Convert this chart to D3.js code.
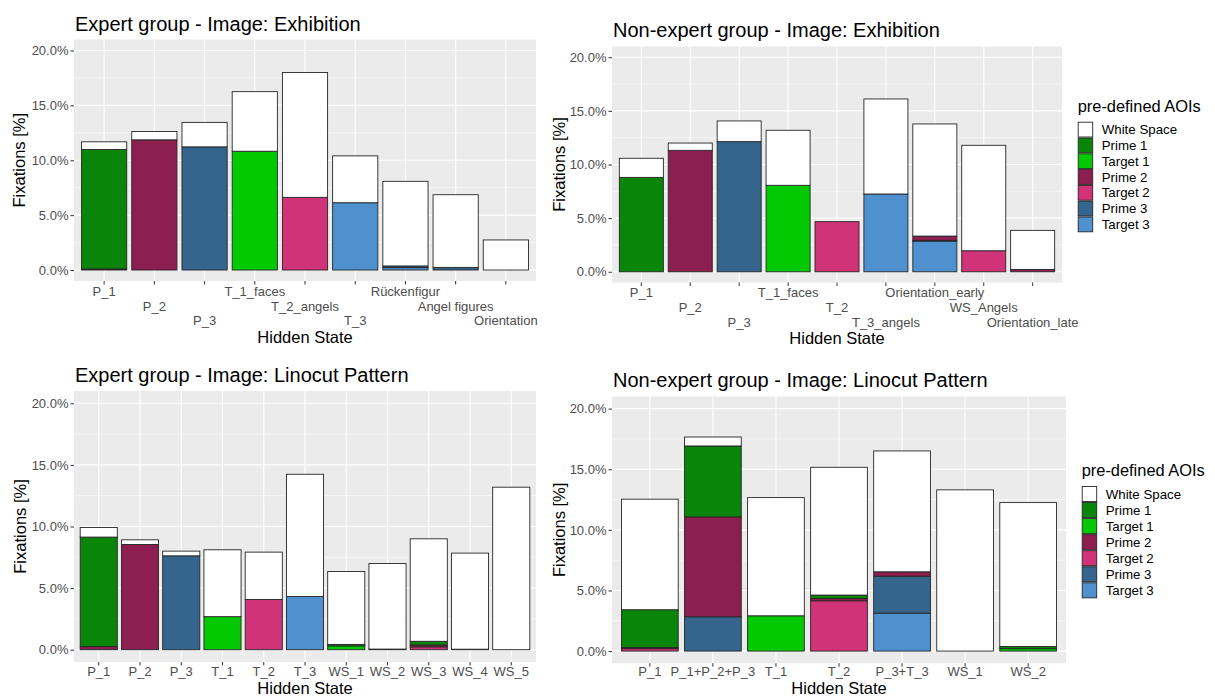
<!DOCTYPE html>
<html>
<head>
<meta charset="utf-8">
<script src="https://cdn.jsdelivr.net/npm/d3@7"></script>
<style>
  html, body { margin: 0; padding: 0; background: #ffffff; }
  svg { display: block; font-family: "Liberation Sans", Arial, Helvetica, sans-serif; }
</style>
</head>
<body>
<script>
// ---- AOI categories (legend order; first one is stacked on top) ----
const aoiNames = ["White Space", "Prime 1", "Target 1", "Prime 2", "Target 2", "Prime 3", "Target 3"];
const aoiPalette = ["#ffffff", "#098509", "#03c903", "#8c1f4f", "#d03377", "#35648c", "#4f91cf"];

// ---- y axis ticks (percent of fixations) ----
const yTickValues = [0, 5, 10, 15, 20];
const yMinorValues = [2.5, 7.5, 12.5, 17.5];

// ---- Expert group, image "Exhibition" ----
const expExhStates   = ["P_1", "P_2", "P_3", "T_1_faces", "T_2_angels", "T_3", "Rückenfigur", "Angel figures", "Orientation"];
const expExhWhite    = [0.70, 0.76, 2.23, 5.43, 11.37, 4.27, 7.71, 6.62, 2.74];
const expExhPrime1   = [10.88, 0, 0, 0, 0, 0, 0, 0, 0];
const expExhTarget1  = [0, 0, 0, 10.82, 0, 0, 0, 0, 0];
const expExhPrime2   = [0.10, 11.86, 0, 0, 0, 0, 0, 0, 0];
const expExhTarget2  = [0, 0, 0, 0, 6.62, 0, 0, 0, 0];
const expExhPrime3   = [0, 0, 11.22, 0, 0, 0, 0.15, 0.24, 0];
const expExhTarget3  = [0, 0, 0, 0, 0, 6.13, 0.22, 0, 0];

// ---- Non-expert group, image "Exhibition" ----
const novExhStates   = ["P_1", "P_2", "P_3", "T_1_faces", "T_2", "T_3_angels", "Orientation_early", "WS_Angels", "Orientation_late"];
const novExhWhite    = [1.78, 0.68, 1.93, 5.13, 0, 8.86, 10.45, 9.83, 3.64];
const novExhPrime1   = [8.80, 0, 0, 0, 0, 0, 0, 0, 0];
const novExhTarget1  = [0, 0, 0, 8.06, 0, 0, 0, 0, 0];
const novExhPrime2   = [0, 11.32, 0, 0, 0, 0, 0.40, 0, 0.22];
const novExhTarget2  = [0, 0, 0, 0, 4.67, 0, 0, 1.96, 0];
const novExhPrime3   = [0, 0, 12.13, 0, 0, 0, 0.07, 0, 0];
const novExhTarget3  = [0, 0, 0, 0, 0, 7.25, 2.86, 0, 0];

// ---- Expert group, image "Linocut Pattern" ----
const expLinStates   = ["P_1", "P_2", "P_3", "T_1", "T_2", "T_3", "WS_1", "WS_2", "WS_3", "WS_4", "WS_5"];
const expLinWhite    = [0.78, 0.38, 0.38, 5.43, 3.84, 9.92, 5.92, 6.95, 8.32, 7.80, 13.19];
const expLinPrime1   = [8.89, 0, 0, 0, 0, 0, 0.12, 0, 0.30, 0, 0];
const expLinTarget1  = [0, 0, 0, 2.68, 0, 0, 0.31, 0, 0, 0, 0];
const expLinPrime2   = [0.25, 8.54, 0, 0, 0, 0, 0, 0.05, 0.15, 0, 0];
const expLinTarget2  = [0, 0, 0, 0, 4.08, 0, 0, 0, 0.23, 0, 0];
const expLinPrime3   = [0, 0, 7.62, 0, 0, 0, 0, 0, 0, 0.04, 0];
const expLinTarget3  = [0, 0, 0, 0, 0, 4.32, 0, 0, 0, 0, 0];

// ---- Non-expert group, image "Linocut Pattern" ----
const novLinStates   = ["P_1", "P_1+P_2+P_3", "T_1", "T_2", "P_3+T_3", "WS_1", "WS_2"];
const novLinWhite    = [9.12, 0.74, 9.75, 10.54, 9.97, 13.30, 11.87];
const novLinPrime1   = [3.11, 5.85, 0, 0.28, 0, 0, 0.18];
const novLinTarget1  = [0, 0, 2.91, 0, 0, 0, 0.20];
const novLinPrime2   = [0.10, 8.24, 0, 0.19, 0.36, 0, 0];
const novLinTarget2  = [0.20, 0, 0, 4.15, 0, 0, 0];
const novLinPrime3   = [0, 2.83, 0, 0, 3.05, 0, 0];
const novLinTarget3  = [0, 0, 0, 0, 3.13, 0, 0];

// ---- assemble each panel's table from the arrays above ----
function buildRows(states, seriesArrays) {
  return states.map((s, i) => {
    const row = { state: s };
    aoiNames.forEach((a, k) => { row[a] = seriesArrays[k][i]; });
    return row;
  });
}

const panels = [
  {
    title: "Expert group - Image: Exhibition",
    rows: buildRows(expExhStates, [expExhWhite, expExhPrime1, expExhTarget1, expExhPrime2, expExhTarget2, expExhPrime3, expExhTarget3]),
    states: expExhStates,
    box: { x0: 74, x1: 536, y0: 39.5, y1: 281 },
    titleBase: 30.5, yTitleX: 19, xTitleY: 337.5, tickOffset: 10.3, dodge: 3, legend: null
  },
  {
    title: "Non-expert group - Image: Exhibition",
    rows: buildRows(novExhStates, [novExhWhite, novExhPrime1, novExhTarget1, novExhPrime2, novExhTarget2, novExhPrime3, novExhTarget3]),
    states: novExhStates,
    box: { x0: 612, x1: 1062, y0: 46.5, y1: 282.5 },
    titleBase: 37.3, yTitleX: 559, xTitleY: 338, tickOffset: 10.3, dodge: 3,
    legend: { x: 1077.7, titleY: 106, keyY: 121.7, keyH: 15.8 }
  },
  {
    title: "Expert group - Image: Linocut Pattern",
    rows: buildRows(expLinStates, [expLinWhite, expLinPrime1, expLinTarget1, expLinPrime2, expLinTarget2, expLinPrime3, expLinTarget3]),
    states: expLinStates,
    box: { x0: 74, x1: 536, y0: 391, y1: 662 },
    titleBase: 381.7, yTitleX: 20, xTitleY: 688.5, tickOffset: 9.6, dodge: 1, legend: null
  },
  {
    title: "Non-expert group - Image: Linocut Pattern",
    rows: buildRows(novLinStates, [novLinWhite, novLinPrime1, novLinTarget1, novLinPrime2, novLinTarget2, novLinPrime3, novLinTarget3]),
    states: novLinStates,
    box: { x0: 612, x1: 1066, y0: 396.5, y1: 663.2 },
    titleBase: 386.7, yTitleX: 559, xTitleY: 688.5, tickOffset: 8.6, dodge: 1,
    legend: { x: 1081.7, titleY: 470, keyY: 486, keyH: 16.05 }
  }
];

const svg = d3.select("body").append("svg")
  .attr("width", 1215).attr("height", 697);
svg.append("rect").attr("width", 1215).attr("height", 697).attr("fill", "#ffffff");

const color = d3.scaleOrdinal().domain(aoiNames).range(aoiPalette);
// bottom-to-top stacking order: last legend entry sits on the baseline
const stackKeys = aoiNames.slice().reverse();

function drawPanel(p) {
  const b = p.box;
  const g = svg.append("g");

  const x = d3.scaleBand().domain(p.states).range([b.x0, b.x1])
    .paddingInner(0.1).paddingOuter(0.15);
  const y = d3.scaleLinear().domain([-1, 21]).range([b.y1, b.y0]);

  // panel background and grid
  g.append("rect").attr("x", b.x0).attr("y", b.y0)
    .attr("width", b.x1 - b.x0).attr("height", b.y1 - b.y0).attr("fill", "#ebebeb");
  g.selectAll("line.minor").data(yMinorValues).join("line")
    .attr("x1", b.x0).attr("x2", b.x1).attr("y1", d => y(d)).attr("y2", d => y(d))
    .attr("stroke", "#ffffff").attr("stroke-width", 0.55);
  g.selectAll("line.majorY").data(yTickValues).join("line")
    .attr("x1", b.x0).attr("x2", b.x1).attr("y1", d => y(d)).attr("y2", d => y(d))
    .attr("stroke", "#ffffff").attr("stroke-width", 1.1);
  g.selectAll("line.majorX").data(p.states).join("line")
    .attr("x1", d => x(d) + x.bandwidth() / 2).attr("x2", d => x(d) + x.bandwidth() / 2)
    .attr("y1", b.y0).attr("y2", b.y1)
    .attr("stroke", "#ffffff").attr("stroke-width", 1.1);

  // stacked bars
  const series = d3.stack().keys(stackKeys)(p.rows);
  series.forEach(s => {
    g.append("g").selectAll("rect")
      .data(s.filter(d => d[1] - d[0] > 0))
      .join("rect")
      .attr("x", d => x(d.data.state))
      .attr("width", x.bandwidth())
      .attr("y", d => y(d[1]))
      .attr("height", d => y(d[0]) - y(d[1]))
      .attr("fill", color(s.key))
      .attr("stroke", "#262626")
      .attr("stroke-width", 0.9);
  });

  // y axis
  const ya = g.append("g").attr("transform", `translate(${b.x0},0)`)
    .call(d3.axisLeft(y).tickValues(yTickValues).tickSize(3.5).tickPadding(2)
      .tickFormat(d => d.toFixed(1) + "%"));
  ya.select(".domain").remove();
  ya.selectAll(".tick line").attr("stroke", "#333333").attr("stroke-width", 1);
  ya.selectAll(".tick text").attr("fill", "#4d4d4d")
    .style("font-size", "13px").style("font-family", "Liberation Sans, Arial, sans-serif");

  // x axis (labels dodged over several rows when there are long names)
  const xa = g.append("g").attr("transform", `translate(0,${b.y1})`)
    .call(d3.axisBottom(x).tickSize(3.5));
  xa.select(".domain").remove();
  xa.selectAll(".tick line").attr("stroke", "#333333").attr("stroke-width", 1);
  xa.selectAll(".tick text")
    .attr("fill", "#4d4d4d")
    .attr("y", (d, i) => p.tickOffset + (i % p.dodge) * 14.8)
    .attr("dy", "0.35em")
    .style("font-size", "13px").style("font-family", "Liberation Sans, Arial, sans-serif");

  // titles
  g.append("text").attr("x", b.x0 + 1).attr("y", p.titleBase)
    .attr("fill", "#000000").style("font-size", "20px").text(p.title);
  g.append("text")
    .attr("transform", `translate(${p.yTitleX},${(b.y0 + b.y1) / 2}) rotate(-90)`)
    .attr("text-anchor", "middle").attr("dy", "0.35em")
    .attr("fill", "#000000").style("font-size", "16.5px").text("Fixations [%]");
  g.append("text").attr("x", (b.x0 + b.x1) / 2).attr("y", p.xTitleY)
    .attr("text-anchor", "middle").attr("dy", "0.35em")
    .attr("fill", "#000000").style("font-size", "16.5px").text("Hidden State");

  // legend
  if (p.legend) {
    const L = p.legend;
    const lg = g.append("g");
    lg.append("text").attr("x", L.x).attr("y", L.titleY).attr("dy", "0.35em")
      .attr("fill", "#000000").style("font-size", "16.4px").text("pre-defined AOIs");
    const items = lg.selectAll("g.item").data(aoiNames).join("g")
      .attr("transform", (d, i) => `translate(${L.x},${L.keyY + i * L.keyH})`);
    items.append("rect").attr("x", 0.5).attr("y", 0.5)
      .attr("width", 14.5).attr("height", L.keyH - 1)
      .attr("fill", d => color(d)).attr("stroke", "#262626").attr("stroke-width", 0.9);
    items.append("text").attr("x", 24).attr("y", L.keyH / 2).attr("dy", "0.35em")
      .attr("fill", "#000000").style("font-size", "13.3px").text(d => d);
  }
}

panels.forEach(drawPanel);
</script>
</body>
</html>
